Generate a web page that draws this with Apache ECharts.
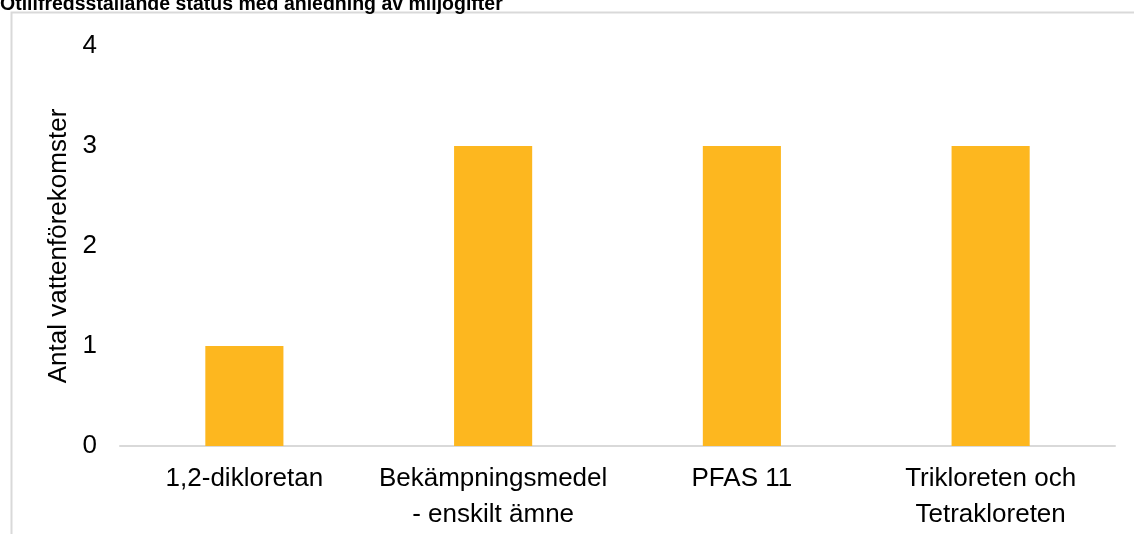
<!DOCTYPE html>
<html>
<head>
<meta charset="utf-8">
<script src="https://cdn.jsdelivr.net/npm/echarts@6/dist/echarts.min.js"></script>
<style>html,body{margin:0;padding:0;background:#fff;}#c{width:1134px;height:534px;}</style>
</head>
<body>
<div id="c"></div>
<script>
const titleText = 'Otillfredsställande status med anledning av miljögifter';
const yAxisName = 'Antal vattenförekomster';
const categories = ['1,2-dikloretan', 'Bekämpningsmedel\n- enskilt ämne', 'PFAS 11', 'Trikloreten och\nTetrakloreten'];
const values = [1, 3, 3, 3];
const yMin = 0, yMax = 4, yStep = 1;

const chart = echarts.init(document.getElementById('c'), null, {renderer: 'canvas'});
const font = 'Liberation Sans, Arial, sans-serif';
chart.setOption({
  animation: false,
  backgroundColor: '#ffffff',
  graphic: [
    {type: 'rect', left: 9, top: 10, shape: {x: 0, y: 0, width: 1200, height: 600},
     style: {fill: 'none', stroke: '#d9d9d9', lineWidth: 2}, z: -1},
    {type: 'text', x: 0, y: 15, style: {text: titleText, fill: '#000', font: 'bold 19.5px "Liberation Sans Narrow", "Liberation Sans", Arial, sans-serif', textVerticalAlign: 'bottom'}}
  ],
  grid: {left: 120, right: 19, top: 46, bottom: 88, containLabel: false},
  xAxis: {
    type: 'category', data: categories,
    axisLine: {lineStyle: {color: '#d9d9d9', width: 2}},
    axisTick: {show: false},
    axisLabel: {color: '#000', fontSize: 26, fontFamily: font, lineHeight: 36, margin: 15, interval: 0}
  },
  yAxis: {
    type: 'value', min: yMin, max: yMax, interval: yStep,
    name: yAxisName, nameLocation: 'middle', nameGap: 48,
    nameTextStyle: {color: '#000', fontSize: 26, fontFamily: font},
    axisLine: {show: false}, axisTick: {show: false}, splitLine: {show: false},
    axisLabel: {color: '#000', fontSize: 26, fontFamily: font, margin: 23}
  },
  series: [{type: 'bar', data: values, barWidth: '31.4%', itemStyle: {color: '#FDB71F'}}]
});
</script>
</body>
</html>
